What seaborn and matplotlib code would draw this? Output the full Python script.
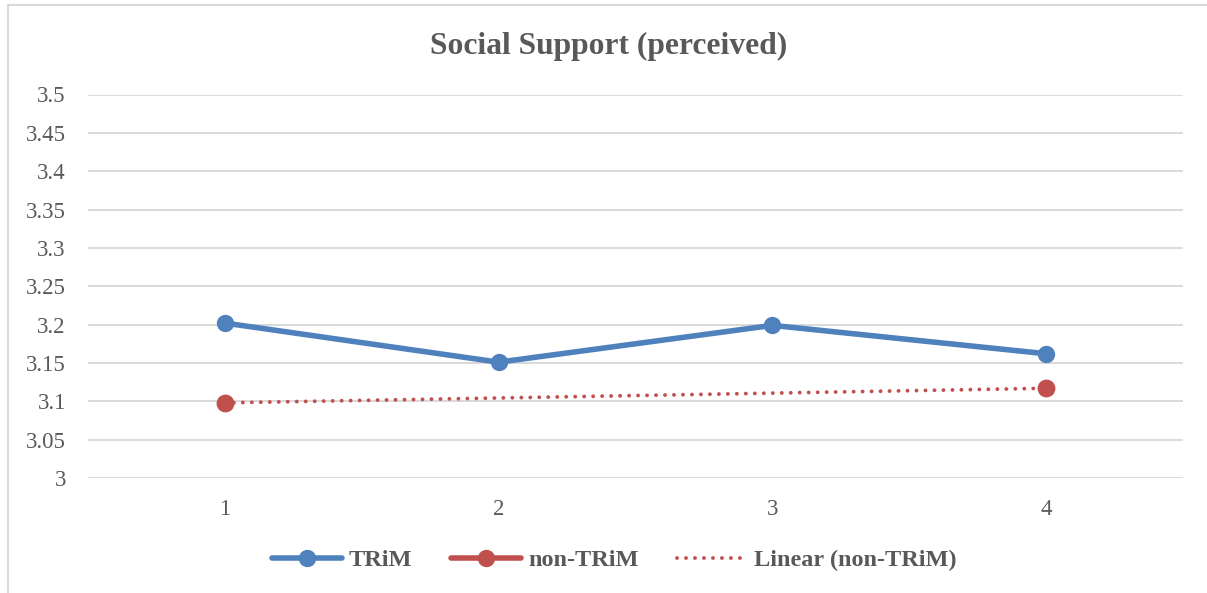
import numpy as np
import pandas as pd
import matplotlib
matplotlib.use("Agg")
import matplotlib.pyplot as plt
from matplotlib.lines import Line2D
import seaborn as sns

# Survey wave and mean perceived social support per group
waves = [1, 2, 3, 4]
trim_values = [3.202, 3.151, 3.199, 3.162]
non_trim_values = [3.098, np.nan, np.nan, 3.117]
y_ticks = [3.0, 3.05, 3.1, 3.15, 3.2, 3.25, 3.3, 3.35, 3.4, 3.45, 3.5]
y_tick_labels = ["3", "3.05", "3.1", "3.15", "3.2", "3.25", "3.3", "3.35", "3.4", "3.45", "3.5"]

BLUE = "#4F81BD"
RED = "#C0504D"
GRID = "#D9D9D9"
TEXT = "#595959"
DOTTED = (0, (0.01, 2.3))

sns.set_theme(style="white")
plt.rcParams["font.family"] = ["Liberation Serif", "DejaVu Serif"]

fig = plt.figure(figsize=(12.07, 5.93), dpi=100)
ax = fig.add_axes([88 / 1207, 1 - 478 / 593, (1183 - 88) / 1207, (478 - 94.5) / 593])

df_trim = pd.DataFrame({"wave": waves, "value": trim_values})
df_non = pd.DataFrame({"wave": waves, "value": non_trim_values}).dropna()

# Linear trend fitted on the non-TRiM observations
coef = np.polyfit(df_non["wave"], df_non["value"], 1)
trend_x = np.array([waves[0], waves[-1]], dtype=float)
df_trend = pd.DataFrame({"wave": trend_x, "value": np.polyval(coef, trend_x)})

sns.lineplot(data=df_trend, x="wave", y="value", ax=ax, color=RED,
             linewidth=2.8, linestyle=DOTTED, dash_capstyle="round", zorder=3)
sns.lineplot(data=df_trim, x="wave", y="value", ax=ax, color=BLUE,
             linewidth=4.0, marker="o", markersize=12.5, markeredgewidth=0, zorder=4)
sns.scatterplot(data=df_non, x="wave", y="value", ax=ax, color=RED,
                s=165, linewidth=0, zorder=5)

ax.set_xlim(0.5, 4.5)
ax.set_ylim(3.0, 3.5)
ax.set_xticks(waves)
ax.set_xticklabels([str(w) for w in waves])
ax.set_yticks(y_ticks)
ax.set_yticklabels(y_tick_labels)
ax.set_xlabel("")
ax.set_ylabel("")
ax.grid(axis="y", color=GRID, linewidth=1.4)
ax.grid(axis="x", visible=False)
ax.set_axisbelow(True)
for side in ["top", "right", "left", "bottom"]:
    ax.spines[side].set_visible(False)
ax.tick_params(axis="both", length=0, labelsize=16.5, colors=TEXT)
ax.tick_params(axis="y", pad=16)
ax.tick_params(axis="x", pad=15)

fig.text(609 / 1207, 1 - 46 / 593, "Social Support (perceived)", ha="center", va="center",
         fontsize=22.7, fontweight="bold", color=TEXT)

handles = [
    Line2D([], [], color=BLUE, linewidth=4.0, marker="o", markersize=12.5, markeredgewidth=0),
    Line2D([], [], color=RED, linewidth=4.0, marker="o", markersize=12.5, markeredgewidth=0),
    Line2D([], [], color=RED, linewidth=2.8, linestyle=DOTTED, dash_capstyle="round"),
]
labels = ["TRiM", "non-TRiM", "Linear (non-TRiM)"]
fig.legend(handles, labels, loc="center", bbox_to_anchor=(614.5 / 1207, 1 - 560 / 593),
           ncol=3, frameon=False, handlelength=2.86, handletextpad=0.3, columnspacing=1.6,
           prop={"family": "Liberation Serif", "weight": "bold", "size": 17.5},
           labelcolor=TEXT)

# Chart-area frame along the left and top edges
fig.add_artist(Line2D([8 / 1207, 8 / 1207], [0, 1 - 5 / 593], transform=fig.transFigure,
                      color=GRID, linewidth=1.5))
fig.add_artist(Line2D([8 / 1207, 1], [1 - 5 / 593, 1 - 5 / 593], transform=fig.transFigure,
                      color=GRID, linewidth=1.5))

fig.savefig("out.png", dpi=100)
